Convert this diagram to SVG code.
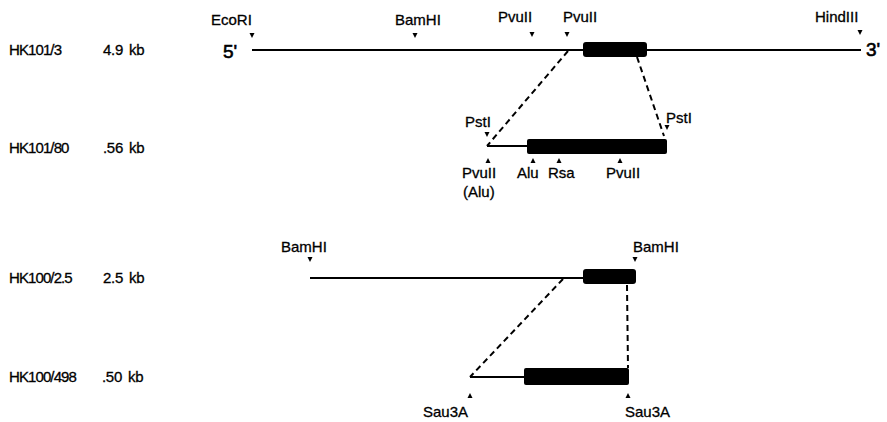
<svg xmlns="http://www.w3.org/2000/svg" width="887" height="422" viewBox="0 0 887 422">
<style>
text{font-family:"Liberation Sans",Arial,sans-serif;fill:#000;stroke:#000;stroke-width:0.3px}
.nm{font-size:15px;letter-spacing:-0.9px}
.sz{font-size:15px;letter-spacing:-0.3px}
.en{font-size:15px}
.end{font-size:19px;stroke-width:0.6px}
.ln{stroke:#000;stroke-width:2;fill:none}
.box{fill:#000}
.dash{stroke:#000;stroke-width:2;stroke-dasharray:6,4;fill:none}
.tri{fill:#000}
</style>
<defs>
<polygon id="dn" class="tri" points="-2.5,0 2.5,0 0,5"/>
<polygon id="up" class="tri" points="-2.5,5 2.5,5 0,0"/>
</defs>
<rect width="887" height="422" fill="#fff"/>

<g id="hk101-3">
<text class="nm" x="9" y="55">HK101/3</text>
<text class="sz" x="103" y="55">4.9<tspan dx="6">kb</tspan></text>
<text class="end" x="223" y="58">5'</text>
<text class="end" x="866" y="56">3'</text>
<line class="ln" x1="252" y1="50" x2="861" y2="50"/>
<rect class="box" x="583" y="42" width="64" height="15" rx="3"/>
<text class="en" x="211" y="25">EcoRI</text><use href="#dn" x="252" y="33"/>
<text class="en" x="395" y="25">BamHI</text><use href="#dn" x="415" y="33"/>
<text class="en" x="498" y="22">PvuII</text><use href="#dn" x="532" y="32"/>
<text class="en" x="563" y="22">PvuII</text><use href="#dn" x="567" y="32"/>
<text class="en" x="815" y="22">HindIII</text><use href="#dn" x="860" y="30"/>
</g>

<g id="hk101-80">
<text class="nm" x="9" y="153">HK101/80</text>
<text class="sz" x="103" y="153">.56<tspan dx="6">kb</tspan></text>
<line class="ln" x1="487" y1="146" x2="528" y2="146"/>
<rect class="box" x="527" y="139" width="140" height="15" rx="2"/>
<text class="en" x="465" y="127">PstI</text><use href="#dn" x="487" y="132"/>
<text class="en" x="666" y="123">PstI</text><use href="#dn" x="667" y="125"/>
<use href="#up" x="488" y="158"/><text class="en" x="462" y="178">PvuII</text>
<text class="en" x="463" y="197">(Alu)</text>
<use href="#up" x="533" y="158"/><text class="en" x="517" y="178">Alu</text>
<use href="#up" x="559" y="158"/><text class="en" x="548" y="178">Rsa</text>
<use href="#up" x="620" y="158"/><text class="en" x="606" y="178">PvuII</text>
</g>

<g id="hk100-2.5">
<text class="nm" x="9" y="283">HK100/2.5</text>
<text class="sz" x="103" y="283">2.5<tspan dx="6">kb</tspan></text>
<line class="ln" x1="310" y1="278" x2="585" y2="278"/>
<rect class="box" x="583" y="269" width="53" height="15" rx="3"/>
<text class="en" x="281" y="252">BamHI</text><use href="#dn" x="310" y="257"/>
<text class="en" x="633" y="252">BamHI</text><use href="#dn" x="635" y="257"/>
</g>

<g id="hk100-498">
<text class="nm" x="9" y="382">HK100/498</text>
<text class="sz" x="102" y="382">.50<tspan dx="6">kb</tspan></text>
<line class="ln" x1="470" y1="377" x2="526" y2="377"/>
<rect class="box" x="524" y="368" width="105" height="17" rx="2"/>
<use href="#up" x="470" y="393"/><text class="en" x="423" y="417">Sau3A</text>
<use href="#up" x="628" y="393"/><text class="en" x="625" y="417">Sau3A</text>
</g>

<g id="connectors">
<line class="dash" x1="568" y1="51" x2="487" y2="146"/>
<line class="dash" x1="637" y1="57" x2="664" y2="136"/>
<line class="dash" x1="563" y1="279" x2="470" y2="377"/>
<line class="dash" x1="627" y1="285" x2="628" y2="368"/>
</g>
</svg>
